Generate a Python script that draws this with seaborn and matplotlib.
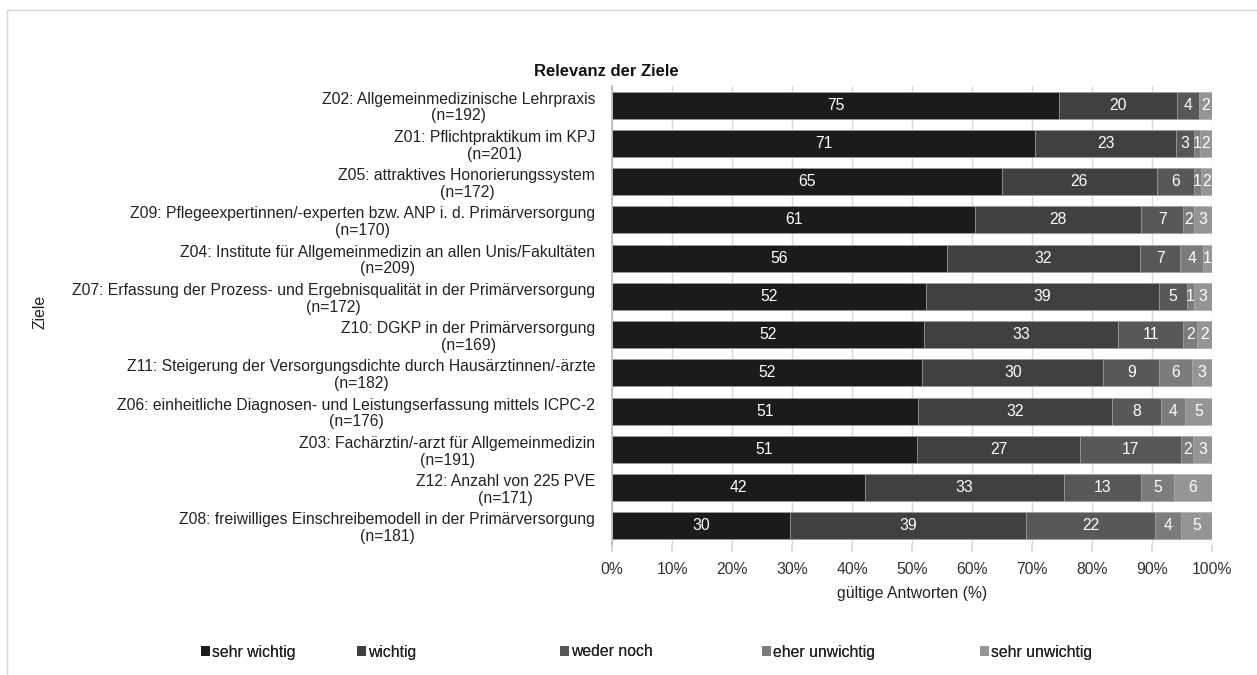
import numpy as np
import pandas as pd
import matplotlib
matplotlib.use("Agg")
import matplotlib.pyplot as plt
import seaborn as sns
from matplotlib.lines import Line2D
from matplotlib.patches import Patch

# ---- data ----
goals = [
    "Z02: Allgemeinmedizinische Lehrpraxis",
    "Z01: Pflichtpraktikum im KPJ",
    "Z05: attraktives Honorierungssystem",
    "Z09: Pflegeexpertinnen/-experten bzw. ANP i. d. Primärversorgung",
    "Z04: Institute für Allgemeinmedizin an allen Unis/Fakultäten",
    "Z07: Erfassung der Prozess- und Ergebnisqualität in der Primärversorgung",
    "Z10: DGKP in der Primärversorgung",
    "Z11: Steigerung der Versorgungsdichte durch Hausärztinnen/-ärzte",
    "Z06: einheitliche Diagnosen- und Leistungserfassung mittels ICPC-2",
    "Z03: Fachärztin/-arzt für Allgemeinmedizin",
    "Z12: Anzahl von 225 PVE",
    "Z08: freiwilliges Einschreibemodell in der Primärversorgung",
]
n_values = [192, 201, 172, 170, 209, 172, 169, 182, 176, 191, 171, 181]

series_names = ["sehr wichtig", "wichtig", "weder noch", "eher unwichtig", "sehr unwichtig"]
sehr_wichtig   = [74.5, 70.5, 65.0, 60.5, 55.8, 52.3, 52.0, 51.7, 51.0, 50.8, 42.1, 29.7]
wichtig        = [19.7, 23.5, 25.8, 27.7, 32.2, 38.9, 32.3, 30.2, 32.4, 27.2, 33.3, 39.3]
weder_noch     = [3.6, 3.0, 6.2, 7.0, 6.7, 4.6, 10.9, 9.3, 8.1, 16.8, 12.8, 21.5]
eher_unwichtig = [0.0, 1.0, 1.2, 1.8, 3.8, 1.2, 2.3, 5.5, 4.0, 2.1, 5.4, 4.3]
sehr_unwichtig = [2.2, 2.0, 1.8, 3.0, 1.5, 3.0, 2.5, 3.3, 4.5, 3.1, 6.4, 5.2]
labels_shown = [
    [75, 71, 65, 61, 56, 52, 52, 52, 51, 51, 42, 30],
    [20, 23, 26, 28, 32, 39, 33, 30, 32, 27, 33, 39],
    [4, 3, 6, 7, 7, 5, 11, 9, 8, 17, 13, 22],
    [0, 1, 1, 2, 4, 1, 2, 6, 4, 2, 5, 4],
    [2, 2, 2, 3, 1, 3, 2, 3, 5, 3, 6, 5],
]
colors = ["#1b1b1b", "#404040", "#585858", "#7c7c7c", "#959595"]
x_ticks = [0, 10, 20, 30, 40, 50, 60, 70, 80, 90, 100]

# ---- build table ----
ytick_labels = [f"{g}\n(n={n})" for g, n in zip(goals, n_values)]
vals = np.array([sehr_wichtig, wichtig, weder_noch, eher_unwichtig, sehr_unwichtig])
cum = np.cumsum(vals, axis=0)
starts = cum - vals
df = pd.DataFrame({"Ziel": ytick_labels})
for i, s in enumerate(series_names):
    df[s] = vals[i]
    df[s + "_cum"] = cum[i]

sns.set_theme(style="white")
plt.rcParams["font.family"] = ["Liberation Sans", "DejaVu Sans"]

FS = 11.3
W, H = 1257, 675
fig = plt.figure(figsize=(W / 100, H / 100), dpi=100)
ax = fig.add_axes([612 / W, 1 - 545 / H, 600 / W, (545 - 86) / H])

# draw cumulative bars from the last series backwards
for i in range(len(series_names) - 1, -1, -1):
    sns.barplot(data=df, x=series_names[i] + "_cum", y="Ziel", orient="h",
                color=colors[i], width=0.7, ax=ax, saturation=1,
                edgecolor="#b0b0b0", linewidth=0.5, zorder=3)

# segment labels
for i in range(len(series_names)):
    for j in range(len(goals)):
        if labels_shown[i][j] == 0:
            continue
        xc = starts[i, j] + vals[i, j] / 2
        ax.text(xc, j, str(labels_shown[i][j]), ha="center", va="center",
                color="white", fontsize=FS, zorder=5)

ax.set_xlim(0, 100)
ax.set_ylim(len(goals) - 0.5, -0.5)
ax.set_xticks(x_ticks)
ax.set_xticklabels([f"{t}%" for t in x_ticks], fontsize=FS, color="#333333")
ax.grid(axis="x", color="#d9d9d9", linewidth=1, zorder=0)
ax.set_axisbelow(True)
for sp in ["top", "right", "bottom"]:
    ax.spines[sp].set_visible(False)
ax.spines["left"].set_color("#bfbfbf")
ax.spines["left"].set_zorder(4)
ax.tick_params(axis="x", length=5, color="#d9d9d9", pad=7, bottom=True)
ax.tick_params(axis="y", length=0, pad=12)
for lab in ax.get_yticklabels():
    lab.set_multialignment("center")
    lab.set_fontsize(FS)
    lab.set_color("#222222")
    lab.set_linespacing(1.15)
ax.set_xlabel("gültige Antworten (%)", fontsize=FS, color="#222222", labelpad=7)
ax.set_ylabel("")
fig.text(40 / W, 1 - 312 / H, "Ziele", rotation=90, ha="center", va="center",
         fontsize=FS, color="#222222")

fig.text(606 / W, 1 - 72 / H, "Relevanz der Ziele", ha="center", va="center",
         fontsize=12, fontweight="bold", color="#111111")

# legend entries
leg_x = [201, 357, 560, 762, 980]
for i, s in enumerate(series_names):
    h = Patch(facecolor=colors[i], edgecolor="none")
    lg = fig.legend([h], [s], loc="center left",
                    bbox_to_anchor=(leg_x[i] / W, 1 - 652 / H),
                    frameon=False, handlelength=0.6, handleheight=0.6,
                    handletextpad=0.1, fontsize=FS, borderpad=0, borderaxespad=0)
    for t in lg.get_texts():
        t.set_color("#222222")
    fig.add_artist(lg)

# chart area border
fig.add_artist(Line2D([7 / W, 7 / W], [0, 1 - 10 / H], transform=fig.transFigure,
                      color="#d9d9d9", linewidth=1))
fig.add_artist(Line2D([7 / W, 1], [1 - 10 / H, 1 - 10 / H], transform=fig.transFigure,
                      color="#d9d9d9", linewidth=1))

fig.savefig("out.png", dpi=100, facecolor="white")
